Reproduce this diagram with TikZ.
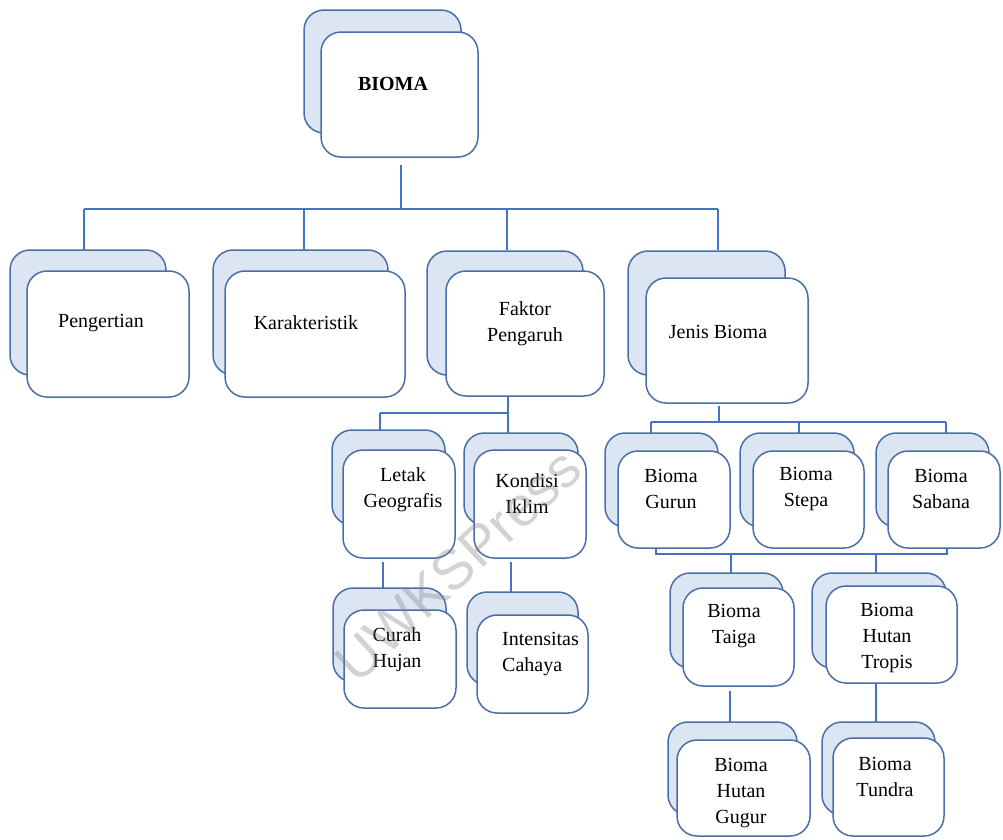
\documentclass[tikz,border=0pt]{standalone}
\usepackage{fontspec}
\setmainfont{Liberation Serif}
\newfontfamily\wmfont{Liberation Sans}
\usetikzlibrary{fit,calc}

\definecolor{boxline}{HTML}{4A6EA9}
\definecolor{boxfill}{HTML}{DCE6F2}
\definecolor{linkcol}{HTML}{4472C4}

\tikzset{
  backcard/.style={draw=boxline, line width=1.5pt, fill=boxfill, rounded corners=20pt, inner sep=0pt},
  frontcard/.style={draw=boxline, line width=1.5pt, fill=white, rounded corners=20pt, inner sep=0pt},
  lbl/.style={align=center, inner sep=0pt, font=\fontsize{20}{26}\selectfont},
  link/.style={draw=linkcol, line width=1.3pt},
}

% a card: back shadow sheet and white front sheet
\newcommand\biocard[9]{%
  \node[backcard, fit={(#2,#3) (#4,#5)}] (#1-b) {};
  \node[frontcard, fit={(#6,#7) (#8,#9)}] (#1-f) {};
}

\begin{document}
\begin{tikzpicture}[x=1pt, y=-1pt]
\useasboundingbox (0,0) rectangle (1003,839);

% ---- connectors ----
\coordinate (bioma-stem) at (401,165);
\coordinate (busL) at (84,209);
\coordinate (busR) at (718,209);
\coordinate (bus-kar) at (304,209);
\coordinate (bus-fak) at (507,209);
\draw[link] (bioma-stem) -- (bioma-stem |- busL);
\draw[link] (busL) -- (busR);
\draw[link] (busL) -- ++(0,41);
\draw[link] (bus-kar) -- ++(0,41);
\draw[link] (bus-fak) -- ++(0,41);
\draw[link] (busR) -- ++(0,41);

% Faktor Pengaruh branch
\coordinate (fak-stem) at (508,397);
\coordinate (fakL) at (380,413);
\draw[link] (fak-stem) -- ++(0,38);
\draw[link] (fakL) -- (fakL -| fak-stem);
\draw[link] (fakL) -- ++(0,17);
\coordinate (letak-stem) at (383,562);
\coordinate (kond-stem) at (511,562);
\draw[link] (letak-stem) -- ++(0,28);
\draw[link] (kond-stem) -- ++(0,30);

% Jenis Bioma branch
\coordinate (jen-stem) at (719,406);
\coordinate (jenL) at (651,422);
\coordinate (jenM) at (799,422);
\coordinate (jenR) at (946,422);
\draw[link] (jen-stem) -- (jen-stem |- jenL);
\draw[link] (jenL) -- (jenR);
\draw[link] (jenL) -- ++(0,11);
\draw[link] (jenM) -- ++(0,11);
\draw[link] (jenR) -- ++(0,11);

% bracket under the first row of biomes
\coordinate (brL) at (656,554);
\coordinate (brR) at (947,554);
\coordinate (br-taiga) at (731,554);
\coordinate (br-tropis) at (876,554);
\draw[link] (656,548) -- (brL) -- (brR) -- (947,548);
\draw[link] (br-taiga) -- ++(0,19);
\draw[link] (br-tropis) -- ++(0,19);
\coordinate (taiga-stem) at (730,691);
\coordinate (tropis-stem) at (876,683);
\draw[link] (taiga-stem) -- ++(0,31);
\draw[link] (tropis-stem) -- ++(0,39);

% ---- cards ----
\biocard{bioma}{304}{10}{461}{133}{321}{32}{478}{157}
\biocard{peng}{10}{250}{166}{375}{27}{271}{189}{397}
\biocard{kar}{213}{250}{388}{375}{225}{271}{405}{397}
\biocard{fak}{427}{251}{583}{375}{446}{271}{604}{396}
\biocard{jen}{628}{251}{785}{375}{646}{278}{808}{403}
\biocard{letak}{332}{430}{445}{525}{343}{450}{455}{558}
\biocard{kond}{464}{433}{578}{525}{474}{450}{586}{558}
\biocard{curah}{333}{588}{446}{682}{344}{610}{456}{708}
\biocard{inten}{467}{592}{578}{685}{477}{615}{588}{713}
\biocard{gurun}{605}{433}{718}{527}{618}{451}{730}{548}
\biocard{stepa}{740}{433}{854}{527}{753}{451}{864}{548}
\biocard{sabana}{876}{433}{989}{527}{888}{451}{1000}{548}
\biocard{taiga}{670}{573}{783}{668}{683}{588}{794}{686}
\biocard{tropis}{812}{573}{946}{668}{826}{586}{957}{683}
\biocard{gugur}{668}{722}{797}{815}{677}{740}{810}{836}
\biocard{tundra}{822}{722}{935}{815}{833}{738}{944}{836}

% ---- labels ----
\node[lbl, font=\fontsize{20}{26}\selectfont\bfseries] (bioma-t) at (393,84) {BIOMA};
\node[lbl] (peng-t) at (101,323) {Pengertian};
\node[lbl] (kar-t) at (306,323) {Karakteristik};
\node[lbl] (fak-t) at (525,323.5) {Faktor\\Pengaruh};
\node[lbl] (jen-t) at (718,332) {Jenis Bioma};
\node[lbl] (letak-t) at (403,489.5) {Letak\\Geografis};
\node[lbl] (kond-t) at (527,493.5) {Kondisi\\Iklim};
\node[lbl] (curah-t) at (397,650) {Curah\\Hujan};
\node[lbl, align=left, anchor=west] (inten-t) at (502,654.5) {Intensitas\\Cahaya};
\node[lbl] (gurun-t) at (671,489) {Bioma\\Gurun};
\node[lbl] (stepa-t) at (806,489) {Bioma\\Stepa};
\node[lbl] (sabana-t) at (941,489) {Bioma\\Sabana};
\node[lbl] (taiga-t) at (734,626.5) {Bioma\\Taiga};
\node[lbl] (tropis-t) at (887,637.5) {Bioma\\Hutan\\Tropis};
\node[lbl] (gugur-t) at (741,793) {Bioma\\Hutan\\Gugur};
\node[lbl] (tundra-t) at (885,777) {Bioma\\Tundra};

% ---- watermark ----
\node[text=gray, opacity=0.35, rotate=43, inner sep=0pt, font=\wmfont\fontsize{56}{60}\selectfont] (wm) at (458,565) {UWKSPress};
\end{tikzpicture}
\end{document}
